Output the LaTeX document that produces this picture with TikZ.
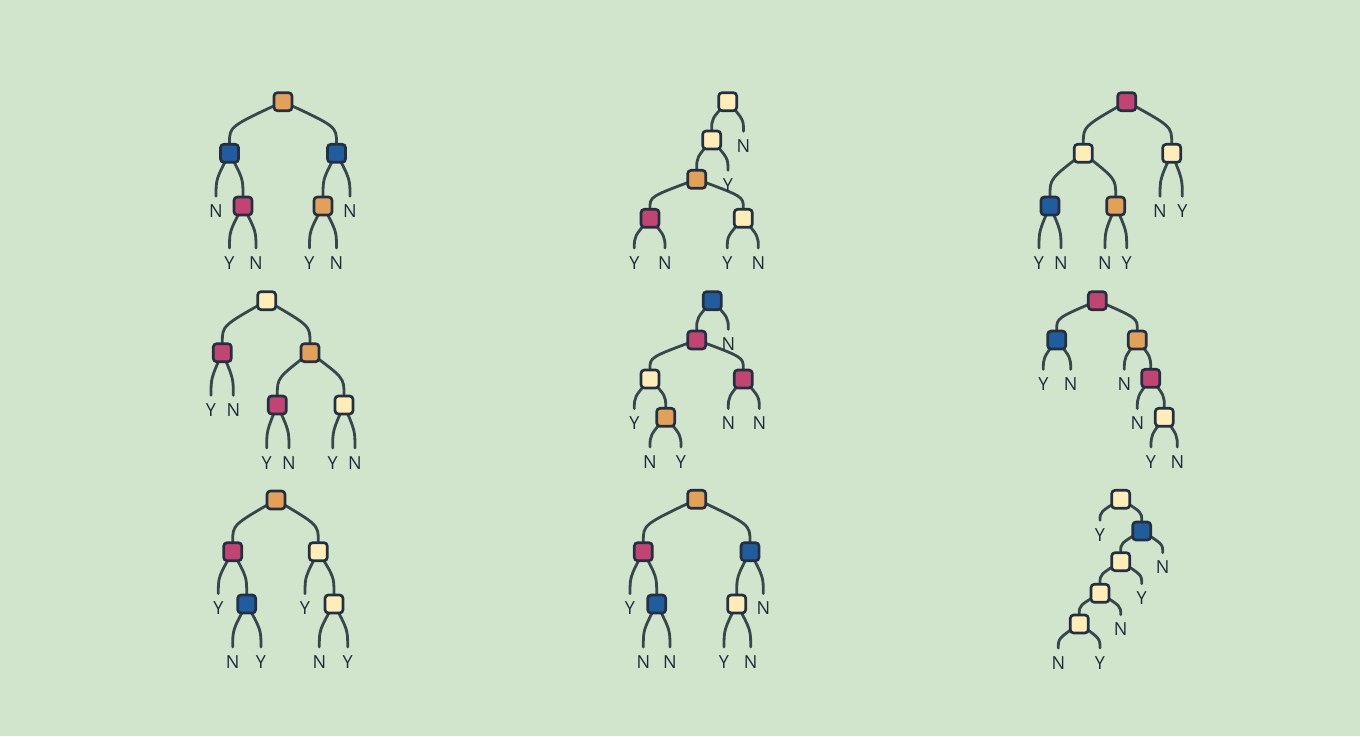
\documentclass[tikz,border=0pt]{standalone}
\usepackage{fontspec}
\newfontfamily\labelfont{Open Sans}
\usetikzlibrary{calc}
\pgfdeclarelayer{back}
\pgfsetlayers{back,main}
\definecolor{bgGreen}{HTML}{D0E5CB}
\definecolor{nodeOrange}{HTML}{E2A058}
\definecolor{nodeBlue}{HTML}{1F5D9F}
\definecolor{nodeMagenta}{HTML}{C14473}
\definecolor{nodeCream}{HTML}{FEEDB7}
\definecolor{boxLine}{HTML}{243042}
\definecolor{branchGray}{HTML}{37474A}
\definecolor{ink}{HTML}{1E2B3B}

\begin{document}
\begin{tikzpicture}[
    x=0.75pt, y=-0.75pt,
    box/.style={rectangle, draw=boxLine, line width=2pt, rounded corners=2.5pt, minimum size=13.5pt, inner sep=0pt},
    leaf/.style={font=\labelfont\fontsize{13.5pt}{15pt}\selectfont, text=ink, text height=9.6pt, text depth=0pt, inner xsep=1pt, inner ysep=6pt},
    branch/.style={line width=2.1pt, draw=branchGray, line cap=round,
        to path={.. controls ($(\tikztotarget)!.4!(\tikztotarget |- \tikztostart)$) .. (\tikztotarget)}}
]

% 1. Tree one (top left)
\node[box, fill=nodeOrange] (t1) at (283,101.7) {};
\node[box, fill=nodeBlue] (t1l) at (229.5,153.3) {};
\node[box, fill=nodeBlue] (t1r) at (336.5,153.3) {};
\node[leaf] (t1ll) at (216,211) {N};
\node[box, fill=nodeMagenta] (t1lr) at (243,206) {};
\node[leaf] (t1lrl) at (229.5,262.7) {Y};
\node[leaf] (t1lrr) at (256,262.7) {N};
\node[box, fill=nodeOrange] (t1rl) at (323,206) {};
\node[leaf] (t1rr) at (350,211) {N};
\node[leaf] (t1rll) at (309.5,262.7) {Y};
\node[leaf] (t1rlr) at (336.5,262.7) {N};

% 2. Tree two (top middle)
\node[box, fill=nodeCream] (t2) at (727.7,101.7) {};
\node[box, fill=nodeCream] (t2l) at (711.7,140) {};
\node[leaf] (t2r) at (743.5,146) {N};
\node[box, fill=nodeOrange] (t2ll) at (696.7,179.3) {};
\node[leaf] (t2lr) at (728,185) {Y};
\node[box, fill=nodeMagenta] (t2lll) at (650,218.3) {};
\node[box, fill=nodeCream] (t2llr) at (743.3,218.3) {};
\node[leaf] (t2llll) at (634.3,262.7) {Y};
\node[leaf] (t2lllr) at (665,262.7) {N};
\node[leaf] (t2llrl) at (727.3,262.7) {Y};
\node[leaf] (t2llrr) at (758.3,262.7) {N};

% 3. Tree three (top right)
\node[box, fill=nodeMagenta] (t3) at (1126.7,101.7) {};
\node[box, fill=nodeCream] (t3l) at (1083.3,153.3) {};
\node[box, fill=nodeCream] (t3r) at (1171.7,153.3) {};
\node[leaf] (t3rl) at (1160,211) {N};
\node[leaf] (t3rr) at (1182.3,211) {Y};
\node[box, fill=nodeBlue] (t3ll) at (1050,206) {};
\node[box, fill=nodeOrange] (t3lr) at (1115.7,206) {};
\node[leaf] (t3lll) at (1039,262.7) {Y};
\node[leaf] (t3llr) at (1061,262.7) {N};
\node[leaf] (t3lrl) at (1105,262.7) {N};
\node[leaf] (t3lrr) at (1126.7,262.7) {Y};

% 4. Tree four (middle left)
\node[box, fill=nodeCream] (t4) at (266.7,300.7) {};
\node[box, fill=nodeMagenta] (t4l) at (222.3,352.7) {};
\node[box, fill=nodeOrange] (t4r) at (310,352.7) {};
\node[leaf] (t4ll) at (211,410) {Y};
\node[leaf] (t4lr) at (233.3,410) {N};
\node[box, fill=nodeMagenta] (t4rl) at (277.3,405) {};
\node[box, fill=nodeCream] (t4rr) at (344,405) {};
\node[leaf] (t4rll) at (266.7,462.7) {Y};
\node[leaf] (t4rlr) at (289,462.7) {N};
\node[leaf] (t4rrl) at (332.7,462.7) {Y};
\node[leaf] (t4rrr) at (355,462.7) {N};

% 5. Tree five (centre)
\node[box, fill=nodeBlue] (t5) at (712.3,300.7) {};
\node[box, fill=nodeMagenta] (t5l) at (696.7,340) {};
\node[leaf] (t5r) at (728.3,344) {N};
\node[box, fill=nodeCream] (t5ll) at (650,379) {};
\node[box, fill=nodeMagenta] (t5lr) at (743.3,379) {};
\node[leaf] (t5lll) at (634.3,423.3) {Y};
\node[box, fill=nodeOrange] (t5llr) at (665.7,417.3) {};
\node[leaf] (t5llrl) at (650,461.7) {N};
\node[leaf] (t5llrr) at (681,461.7) {Y};
\node[leaf] (t5lrl) at (728.3,423.3) {N};
\node[leaf] (t5lrr) at (759.3,423.3) {N};

% 6. Tree six (middle right)
\node[box, fill=nodeMagenta] (t6) at (1097.3,300.7) {};
\node[box, fill=nodeBlue] (t6l) at (1056.7,340) {};
\node[box, fill=nodeOrange] (t6r) at (1137.3,340) {};
\node[leaf] (t6ll) at (1043.3,384) {Y};
\node[leaf] (t6lr) at (1070.7,384) {N};
\node[leaf] (t6rl) at (1124.3,384) {N};
\node[box, fill=nodeMagenta] (t6rr) at (1150.7,378.3) {};
\node[leaf] (t6rrl) at (1137.3,423.3) {N};
\node[box, fill=nodeCream] (t6rrr) at (1164.3,417.3) {};
\node[leaf] (t6rrrl) at (1151,461.7) {Y};
\node[leaf] (t6rrrr) at (1177.3,461.7) {N};

% 7. Tree seven (bottom left)
\node[box, fill=nodeOrange] (t7) at (276,500) {};
\node[box, fill=nodeMagenta] (t7l) at (232.7,551.7) {};
\node[box, fill=nodeCream] (t7r) at (318.3,551.7) {};
\node[leaf] (t7ll) at (218.3,608.3) {Y};
\node[box, fill=nodeBlue] (t7lr) at (246.7,604) {};
\node[leaf] (t7lrl) at (232.7,661.7) {N};
\node[leaf] (t7lrr) at (261,661.7) {Y};
\node[leaf] (t7rl) at (305,608.3) {Y};
\node[box, fill=nodeCream] (t7rr) at (334,604) {};
\node[leaf] (t7rrl) at (319.3,661.7) {N};
\node[leaf] (t7rrr) at (347.7,661.7) {Y};

% 8. Tree eight (bottom middle)
\node[box, fill=nodeOrange] (t8) at (696.7,499.3) {};
\node[box, fill=nodeMagenta] (t8l) at (643.3,551.7) {};
\node[box, fill=nodeBlue] (t8r) at (750,551.7) {};
\node[leaf] (t8ll) at (630,608.3) {Y};
\node[box, fill=nodeBlue] (t8lr) at (656.7,604) {};
\node[leaf] (t8lrl) at (643.3,661.7) {N};
\node[leaf] (t8lrr) at (670,661.7) {N};
\node[box, fill=nodeCream] (t8rl) at (736.7,604) {};
\node[leaf] (t8rr) at (763.3,608.3) {N};
\node[leaf] (t8rll) at (724,661.7) {Y};
\node[leaf] (t8rlr) at (750.7,661.7) {N};

% 9. Tree nine (bottom right)
\node[box, fill=nodeCream] (t9) at (1120.7,499.3) {};
\node[leaf] (t9l) at (1100,535) {Y};
\node[box, fill=nodeBlue] (t9r) at (1141.7,531) {};
\node[box, fill=nodeCream] (t9rl) at (1120.7,561.7) {};
\node[leaf] (t9rr) at (1162.7,567.3) {N};
\node[box, fill=nodeCream] (t9rll) at (1100,593.3) {};
\node[leaf] (t9rlr) at (1141.7,598.3) {Y};
\node[box, fill=nodeCream] (t9rlll) at (1079.3,624) {};
\node[leaf] (t9rllr) at (1120.7,629.3) {N};
\node[leaf] (t9rllll) at (1058.3,662.7) {N};
\node[leaf] (t9rlllr) at (1100,662.7) {Y};

% Background and branches (behind the boxes)
\begin{pgfonlayer}{back}
\fill[bgGreen] (0,0) rectangle (1360,736);

\draw[branch] (t1.center) to (t1l.north) (t1.center) to (t1r.north);
\draw[branch] (t1l.center) to (t1ll.north) (t1l.center) to (t1lr.north);
\draw[branch] (t1lr.center) to (t1lrl.north) (t1lr.center) to (t1lrr.north);
\draw[branch] (t1r.center) to (t1rl.north) (t1r.center) to (t1rr.north);
\draw[branch] (t1rl.center) to (t1rll.north) (t1rl.center) to (t1rlr.north);

\draw[branch] (t2.center) to (t2l.north) (t2.center) to (t2r.north);
\draw[branch] (t2l.center) to (t2ll.north) (t2l.center) to (t2lr.north);
\draw[branch] (t2ll.center) to (t2lll.north) (t2ll.center) to (t2llr.north);
\draw[branch] (t2lll.center) to (t2llll.north) (t2lll.center) to (t2lllr.north);
\draw[branch] (t2llr.center) to (t2llrl.north) (t2llr.center) to (t2llrr.north);

\draw[branch] (t3.center) to (t3l.north) (t3.center) to (t3r.north);
\draw[branch] (t3r.center) to (t3rl.north) (t3r.center) to (t3rr.north);
\draw[branch] (t3l.center) to (t3ll.north) (t3l.center) to (t3lr.north);
\draw[branch] (t3ll.center) to (t3lll.north) (t3ll.center) to (t3llr.north);
\draw[branch] (t3lr.center) to (t3lrl.north) (t3lr.center) to (t3lrr.north);

\draw[branch] (t4.center) to (t4l.north) (t4.center) to (t4r.north);
\draw[branch] (t4l.center) to (t4ll.north) (t4l.center) to (t4lr.north);
\draw[branch] (t4r.center) to (t4rl.north) (t4r.center) to (t4rr.north);
\draw[branch] (t4rl.center) to (t4rll.north) (t4rl.center) to (t4rlr.north);
\draw[branch] (t4rr.center) to (t4rrl.north) (t4rr.center) to (t4rrr.north);

\draw[branch] (t5.center) to (t5l.north) (t5.center) to (t5r.north);
\draw[branch] (t5l.center) to (t5ll.north) (t5l.center) to (t5lr.north);
\draw[branch] (t5ll.center) to (t5lll.north) (t5ll.center) to (t5llr.north);
\draw[branch] (t5llr.center) to (t5llrl.north) (t5llr.center) to (t5llrr.north);
\draw[branch] (t5lr.center) to (t5lrl.north) (t5lr.center) to (t5lrr.north);

\draw[branch] (t6.center) to (t6l.north) (t6.center) to (t6r.north);
\draw[branch] (t6l.center) to (t6ll.north) (t6l.center) to (t6lr.north);
\draw[branch] (t6r.center) to (t6rl.north) (t6r.center) to (t6rr.north);
\draw[branch] (t6rr.center) to (t6rrl.north) (t6rr.center) to (t6rrr.north);
\draw[branch] (t6rrr.center) to (t6rrrl.north) (t6rrr.center) to (t6rrrr.north);

\draw[branch] (t7.center) to (t7l.north) (t7.center) to (t7r.north);
\draw[branch] (t7l.center) to (t7ll.north) (t7l.center) to (t7lr.north);
\draw[branch] (t7lr.center) to (t7lrl.north) (t7lr.center) to (t7lrr.north);
\draw[branch] (t7r.center) to (t7rl.north) (t7r.center) to (t7rr.north);
\draw[branch] (t7rr.center) to (t7rrl.north) (t7rr.center) to (t7rrr.north);

\draw[branch] (t8.center) to (t8l.north) (t8.center) to (t8r.north);
\draw[branch] (t8l.center) to (t8ll.north) (t8l.center) to (t8lr.north);
\draw[branch] (t8lr.center) to (t8lrl.north) (t8lr.center) to (t8lrr.north);
\draw[branch] (t8r.center) to (t8rl.north) (t8r.center) to (t8rr.north);
\draw[branch] (t8rl.center) to (t8rll.north) (t8rl.center) to (t8rlr.north);

\draw[branch] (t9.center) to (t9l.north) (t9.center) to (t9r.north);
\draw[branch] (t9r.center) to (t9rl.north) (t9r.center) to (t9rr.north);
\draw[branch] (t9rl.center) to (t9rll.north) (t9rl.center) to (t9rlr.north);
\draw[branch] (t9rll.center) to (t9rlll.north) (t9rll.center) to (t9rllr.north);
\draw[branch] (t9rlll.center) to (t9rllll.north) (t9rlll.center) to (t9rlllr.north);
\end{pgfonlayer}

\end{tikzpicture}
\end{document}
